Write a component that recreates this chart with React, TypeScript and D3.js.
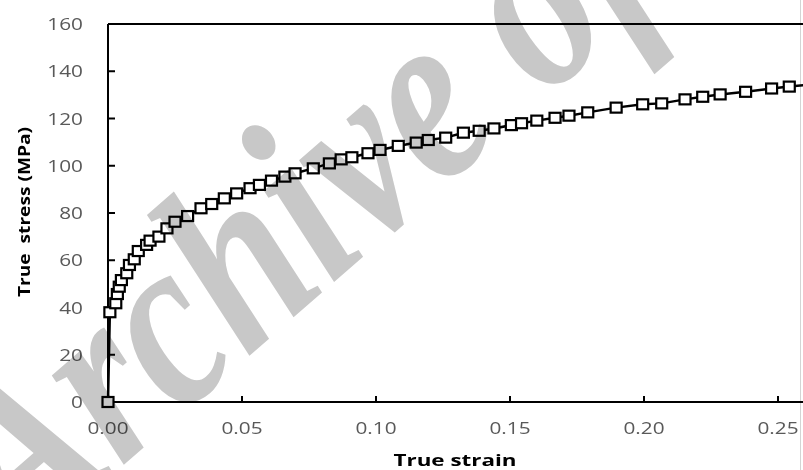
import { useMemo } from 'react';
import * as d3 from 'd3';

// true strain / true stress (MPa)
const strain = [
    0, 0.0007, 0.0029, 0.0035, 0.0042, 0.005, 0.007, 0.008, 0.0098, 0.0113, 0.0144, 0.0157,
    0.019, 0.022, 0.025, 0.0297, 0.0347, 0.0387, 0.0434, 0.048, 0.053, 0.0565, 0.061, 0.066,
    0.0698, 0.0766, 0.0826, 0.087, 0.091, 0.097, 0.1015, 0.1083, 0.115, 0.1195, 0.126, 0.1326,
    0.1385, 0.144, 0.1505, 0.1543, 0.16, 0.1668, 0.172, 0.179, 0.1896, 0.1995, 0.2066, 0.2153,
    0.2219, 0.2284, 0.2379, 0.2476, 0.2542, 0.262,
];
const stress = [
    0, 38, 41.8, 45.7, 48.8, 51.6, 54.5, 58, 60.4, 63.9, 66.5, 68.3, 70, 73.5, 76.3, 78.7, 82,
    83.8, 86.2, 88.3, 90.5, 91.9, 93.7, 95.4, 96.8, 98.9, 101, 102.7, 103.6, 105.3, 106.7, 108.4,
    109.8, 110.9, 111.9, 114, 114.8, 115.8, 117.2, 118, 119.1, 120.3, 121.2, 122.6, 124.6, 126,
    126.4, 128.1, 129.2, 130.2, 131.3, 132.7, 133.5, 134.3,
];
const xTicks = [0, 0.05, 0.1, 0.15, 0.2, 0.25];
const yTicks = [0, 20, 40, 60, 80, 100, 120, 140, 160];

const width = 803;
const height = 470;
const margin = { top: 24, right: 3, bottom: 68, left: 108 };
const labelFont = "'Open Sans', sans-serif";

export default function App() {
    const x = useMemo(
        () => d3.scaleLinear().domain([0, 0.2582]).range([margin.left, width - margin.right]),
        []
    );
    const y = useMemo(
        () => d3.scaleLinear().domain([0, 160]).range([height - margin.bottom, margin.top]),
        []
    );
    const points = strain.map((s, i) => [s, stress[i]] as [number, number]);
    const line = d3
        .line<[number, number]>()
        .x((d) => x(d[0]))
        .y((d) => y(d[1]));

    const x0 = x(0);
    const y0 = y(0);

    return (
        <svg
            width={width}
            height={height}
            viewBox={`0 0 ${width} ${height}`}
            style={{ position: 'absolute', left: 0, top: 0, background: '#fff' }}
        >
            <rect width={width} height={height} fill="#fff" />
            {/* plot frame */}
            <line x1={800.5} x2={800.5} y1={0} y2={height} stroke="#d4d4d4" strokeWidth={1} />
            <line x1={x0} x2={width} y1={y(160)} y2={y(160)} stroke="#000" strokeWidth={2} />
            <line x1={x0} x2={x0} y1={y(160)} y2={y0} stroke="#000" strokeWidth={2} />
            <line x1={x0} x2={width} y1={y0} y2={y0} stroke="#000" strokeWidth={2} />
            {yTicks.map((t) => (
                <g key={t}>
                    <line x1={x0} x2={x0 + 7} y1={y(t)} y2={y(t)} stroke="#000" strokeWidth={2} />
                    <text
                        transform={`translate(83, ${y(t) + 6}) scale(1.3, 1)`}
                        textAnchor="end"
                        fontFamily={labelFont}
                        fontSize={16}
                        fill="#595959"
                    >
                        {t}
                    </text>
                </g>
            ))}
            {xTicks.map((t) => (
                <g key={t}>
                    <line x1={x(t)} x2={x(t)} y1={y0} y2={y0 - 6} stroke="#000" strokeWidth={2} />
                    <text
                        transform={`translate(${x(t)}, 434) scale(1.3, 1)`}
                        textAnchor="middle"
                        fontFamily={labelFont}
                        fontSize={16}
                        fill="#595959"
                    >
                        {t.toFixed(2)}
                    </text>
                </g>
            ))}
            <text
                x={455}
                y={466}
                textAnchor="middle"
                fontFamily={labelFont}
                fontWeight="bold"
                fontSize={16}
                textLength={123}
                lengthAdjust="spacingAndGlyphs"
            >
                True strain
            </text>
            <text
                transform="translate(30, 212) rotate(-90)"
                textAnchor="middle"
                fontFamily={labelFont}
                fontWeight="bold"
                fontSize={16}
                textLength={170}
                lengthAdjust="spacingAndGlyphs"
                style={{ whiteSpace: 'pre' }}
            >
                {'True  stress (MPa)'}
            </text>
            {/* series */}
            <path d={line(points) ?? ''} fill="none" stroke="#000" strokeWidth={2.5} />
            {points.map((d, i) => (
                <rect
                    key={i}
                    x={x(d[0]) - 5.5}
                    y={y(d[1]) - 5}
                    width={11}
                    height={10}
                    fill="#fff"
                    stroke="#000"
                    strokeWidth={2.2}
                />
            ))}
            {/* watermark, multiplied over the chart */}
            <text
                transform="translate(20, 555) rotate(-41) scale(0.8, 1)"
                fontFamily="'Liberation Serif', serif"
                fontStyle="italic"
                fontWeight="bold"
                fontSize={250}
                fill="#c8c8c8"
                style={{ mixBlendMode: 'multiply' }}
            >
                Archive of SID
            </text>
        </svg>
    );
}
